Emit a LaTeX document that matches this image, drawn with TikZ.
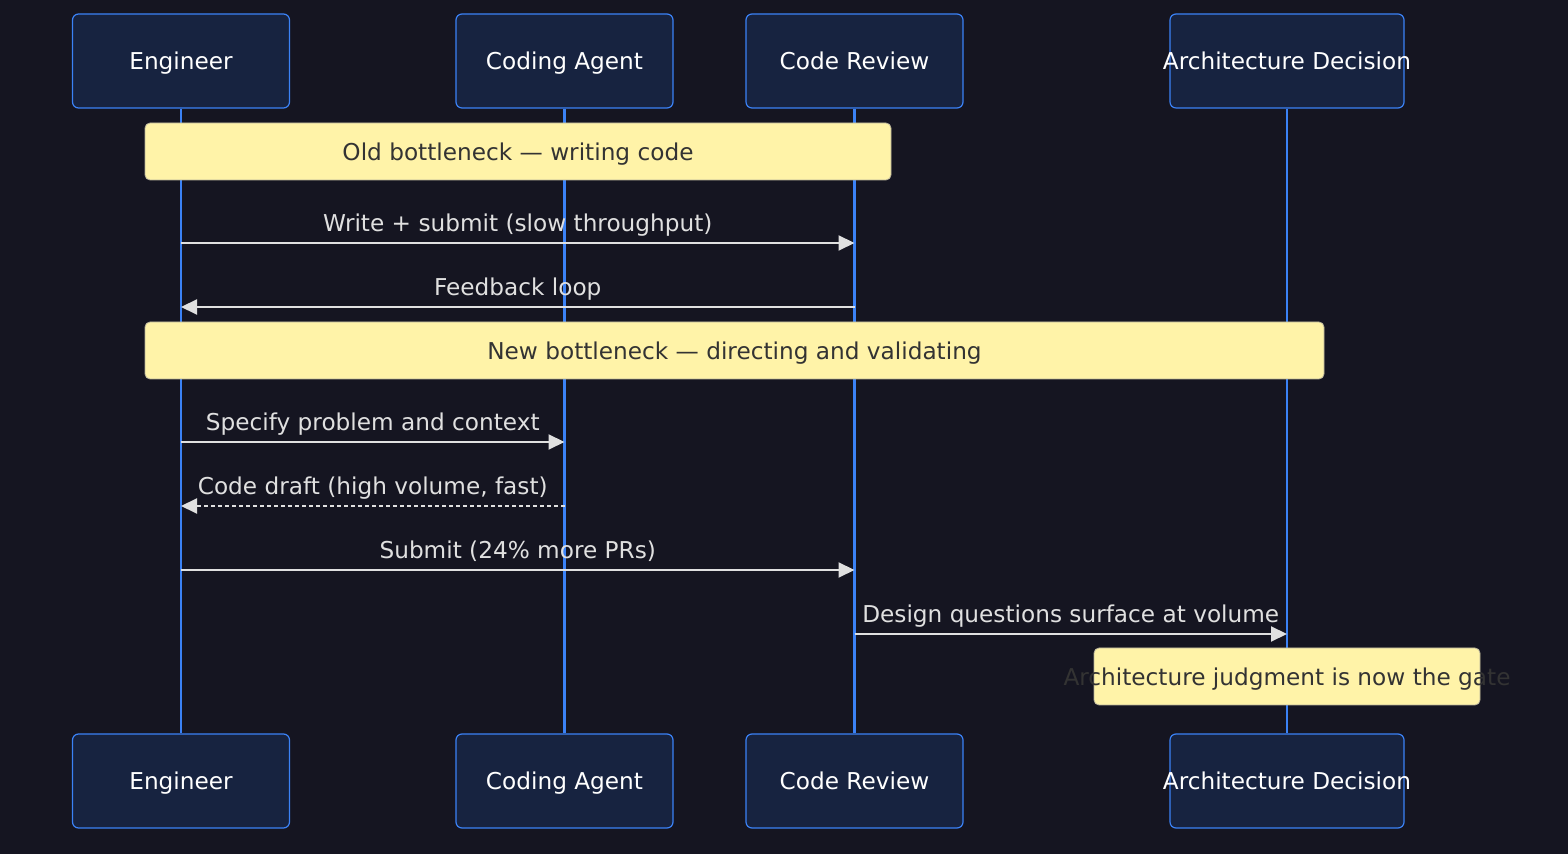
\documentclass[tikz,border=0pt]{standalone}
\usepackage{fontspec}
\setmainfont{DejaVu Sans}
\usepackage{tikz}
\usetikzlibrary{arrows.meta,positioning}
\definecolor{bgdark}{HTML}{151521}
\definecolor{actorfill}{HTML}{172340}
\definecolor{actorline}{HTML}{3B82F6}
\definecolor{notefill}{HTML}{FFF3A8}
\definecolor{noteline}{HTML}{B8B39A}
\definecolor{notetext}{HTML}{333333}
\definecolor{msgline}{HTML}{E0E0E0}

\tikzset{
    txt/.style={
        font=\fontsize{11.6}{14}\selectfont,
        text height=1.05em,
        text depth=0.18em
    },
    actor/.style={
        txt,
        fill=actorfill,
        draw=actorline,
        line width=0.6pt,
        rounded corners=3pt,
        minimum width=109pt,
        minimum height=47pt,
        inner sep=0pt,
        text=white
    },
    lifeline/.style={draw=actorline, line width=1.2pt},
    notebox/.style={
        txt,
        fill=notefill,
        draw=noteline,
        line width=0.4pt,
        rounded corners=2.5pt,
        minimum height=28.5pt,
        inner sep=0pt,
        text=notetext
    },
    msg/.style={draw=msgline, line width=1pt, -{Triangle[length=8pt,width=7.5pt]}},
    msglabel/.style={txt, text=msgline, inner sep=0pt, yshift=10pt}
}

\begin{document}
\begin{tikzpicture}[x=0.5pt,y=-0.5pt]
    \fill[bgdark] (0,0) rectangle (1568,854);
    \useasboundingbox (0,0) rectangle (1568,854);

    % Actors, top row
    \node[actor, minimum width=108.5pt] (eng) at (181,61) {Engineer};
    \node[actor, minimum width=108.5pt] (agent) at (564.5,61) {Coding Agent};
    \node[actor, minimum width=108.5pt] (review) at (854.5,61) {Code Review};
    \node[actor, minimum width=117pt] (arch) at (1287,61) {\makebox[0pt]{Architecture Decision}};

    % Actors, bottom row
    \node[actor, minimum width=108.5pt] (engB) at (181,781) {Engineer};
    \node[actor, minimum width=108.5pt] (agentB) at (564.5,781) {Coding Agent};
    \node[actor, minimum width=108.5pt] (reviewB) at (854.5,781) {Code Review};
    \node[actor, minimum width=117pt] (archB) at (1287,781) {\makebox[0pt]{Architecture Decision}};

    % Lifelines
    \draw[lifeline] (eng) -- (engB);
    \draw[lifeline] (agent) -- (agentB);
    \draw[lifeline] (review) -- (reviewB);
    \draw[lifeline] (arch) -- (archB);

    % Message rows
    \coordinate (r1) at (0,243);
    \coordinate (r2) at (0,307);
    \coordinate (r3) at (0,442);
    \coordinate (r4) at (0,506);
    \coordinate (r5) at (0,570);
    \coordinate (r6) at (0,634);

    % Notes
    \node[notebox, minimum width=373pt] (oldnote) at (518,151.5) {Old bottleneck — writing code};
    \node[notebox, minimum width=589.5pt] (newnote) at (734.5,350.5) {New bottleneck — directing and validating};

    % Messages
    \draw[msg] (eng |- r1) -- (review |- r1)
        node[msglabel, midway] (m1) {Write + submit (slow throughput)};
    \draw[msg] (review |- r2) -- (eng |- r2)
        node[msglabel, midway] (m2) {Feedback loop};
    \draw[msg] (eng |- r3) -- (agent |- r3)
        node[msglabel, midway] (m3) {Specify problem and context};
    \draw[msg, dash pattern=on 2pt off 1.5pt] (agent |- r4) -- (eng |- r4)
        node[msglabel, midway] (m4) {Code draft (high volume, fast)};
    \draw[msg] (eng |- r5) -- (review |- r5)
        node[msglabel, midway] (m5) {Submit (24\% more PRs)};
    \draw[msg] (review |- r6) -- (arch |- r6)
        node[msglabel, midway] (m6) {Design questions surface at volume};

    \node[notebox, minimum width=193pt] (gatenote) at (1287,676.5) {\makebox[0pt]{Architecture judgment is now the gate}};
\end{tikzpicture}
\end{document}
